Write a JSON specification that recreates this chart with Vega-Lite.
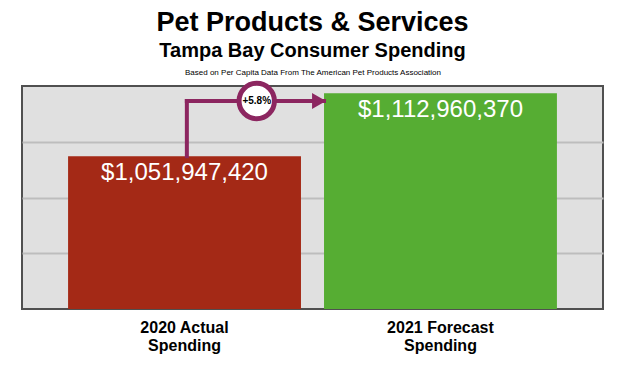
{
  "$schema": "https://vega.github.io/schema/vega-lite/v6.json",
  "width": 581,
  "height": 223,
  "autosize": {"type": "none"},
  "padding": {"left": 22, "top": 86, "right": 29, "bottom": 59},
  "background": "white",
  "config": {
    "font": "Liberation Sans",
    "view": {"fill": "#e0e0e0", "stroke": "#505050", "strokeWidth": 2}
  },
  "title": {
    "text": "Pet Products & Services",
    "subtitle": "Tampa Bay Consumer Spending",
    "font": "Liberation Sans",
    "fontSize": 27,
    "fontWeight": "bold",
    "color": "black",
    "subtitleFont": "Liberation Sans",
    "subtitleFontSize": 20,
    "subtitleFontWeight": "bold",
    "subtitleColor": "black",
    "subtitlePadding": 4,
    "anchor": "middle",
    "frame": "group",
    "offset": 6
  },
  "data": {
    "values": [
      {"cat": "2020 Actual Spending", "value": 1051947420, "text": "$1,051,947,420"},
      {"cat": "2021 Forecast Spending", "value": 1112960370, "text": "$1,112,960,370"}
    ]
  },
  "resolve": {"axis": {"x": "independent"}},
  "layer": [
    {
      "mark": {"type": "bar", "clip": true},
      "encoding": {
        "x": {
          "field": "cat",
          "type": "nominal",
          "sort": null,
          "scale": {"paddingInner": 0.09, "paddingOuter": 0.18},
          "axis": {
            "orient": "bottom",
            "title": null,
            "domain": false,
            "ticks": false,
            "labelAngle": 0,
            "labelFont": "Liberation Sans",
            "labelFontSize": 16,
            "labelFontWeight": "bold",
            "labelColor": "black",
            "labelPadding": 10,
            "labelLineHeight": 18,
            "labelExpr": "[replace(datum.label, ' Spending', ''), 'Spending']"
          }
        },
        "y": {
          "field": "value",
          "type": "quantitative",
          "scale": {"domain": [904000000, 1120000000], "nice": false, "zero": false},
          "axis": {
            "title": null,
            "labels": false,
            "ticks": false,
            "domain": false,
            "grid": true,
            "gridColor": "#bdbdbd",
            "gridWidth": 2,
            "values": [958000000, 1012000000, 1066000000]
          }
        },
        "color": {
          "field": "cat",
          "type": "nominal",
          "scale": {"range": ["#a42916", "#56ad33"]},
          "legend": null
        }
      }
    },
    {
      "mark": {"type": "text", "color": "white", "fontSize": 24, "baseline": "alphabetic", "dy": 24, "font": "Liberation Sans"},
      "encoding": {
        "x": {"field": "cat", "type": "nominal", "axis": null},
        "y": {"field": "value", "type": "quantitative"},
        "text": {"field": "text"}
      }
    },
    {
      "transform": [{"filter": "datum.cat == '2020 Actual Spending'"}],
      "mark": {"type": "rule", "color": "#8c2660", "strokeWidth": 4, "strokeCap": "square"},
      "encoding": {
        "x": {"field": "cat", "type": "nominal", "bandPosition": 0.51, "axis": null},
        "y": {"field": "value", "type": "quantitative"},
        "y2": {"datum": 1105500000}
      }
    },
    {
      "transform": [{"filter": "datum.cat == '2020 Actual Spending'"}],
      "mark": {"type": "rule", "color": "#8c2660", "strokeWidth": 4, "strokeCap": "square"},
      "encoding": {
        "x": {"field": "cat", "type": "nominal", "bandPosition": 0.51, "axis": null},
        "x2": {"datum": "2021 Forecast Spending", "bandPosition": 0},
        "y": {"datum": 1105500000, "type": "quantitative"}
      }
    },
    {
      "transform": [{"filter": "datum.cat == '2021 Forecast Spending'"}],
      "mark": {"type": "point", "shape": "triangle-right", "filled": true, "color": "#8c2660", "opacity": 1, "size": 260, "xOffset": -5},
      "encoding": {
        "x": {"field": "cat", "type": "nominal", "bandPosition": 0, "axis": null},
        "y": {"datum": 1105500000, "type": "quantitative"}
      }
    },
    {
      "transform": [{"filter": "datum.cat == '2020 Actual Spending'"}],
      "mark": {"type": "point", "shape": "circle", "filled": false, "fill": "white", "fillOpacity": 1, "stroke": "#8c2660", "strokeWidth": 5, "opacity": 1, "size": 1250},
      "encoding": {
        "x": {"field": "cat", "type": "nominal", "bandPosition": 0.81, "axis": null},
        "y": {"datum": 1105500000, "type": "quantitative"}
      }
    },
    {
      "transform": [{"filter": "datum.cat == '2020 Actual Spending'"}],
      "mark": {"type": "text", "fontSize": 10, "fontWeight": "bold", "color": "black", "baseline": "middle", "align": "center", "font": "Liberation Sans"},
      "encoding": {
        "x": {
          "field": "cat",
          "type": "nominal",
          "bandPosition": 0.81,
          "axis": {
            "orient": "top",
            "labels": false,
            "ticks": false,
            "domain": false,
            "grid": false,
            "title": "Based on Per Capita Data From The American Pet Products Association",
            "titleFont": "Liberation Sans",
            "titleFontSize": 8,
            "titleFontWeight": "normal",
            "titleColor": "black",
            "titlePadding": 10
          }
        },
        "y": {"datum": 1105500000, "type": "quantitative"},
        "text": {"value": "+5.8%"}
      }
    }
  ]
}
